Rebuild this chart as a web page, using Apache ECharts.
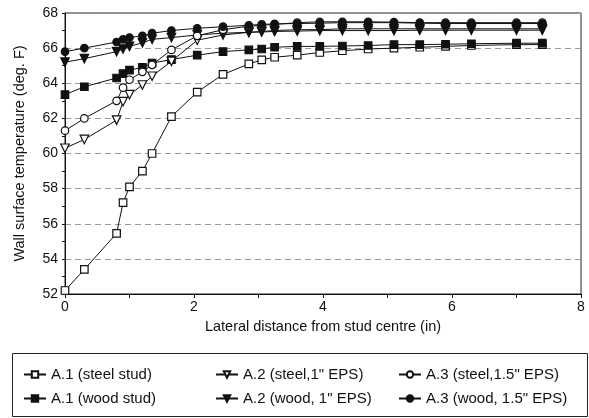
<!DOCTYPE html>
<html>
<head>
<meta charset="utf-8">
<script src="https://cdn.jsdelivr.net/npm/echarts@6/dist/echarts.min.js"></script>
<style>
  html, body { margin: 0; padding: 0; background: #fff; }
  #chart { width: 589px; height: 418px; }
</style>
</head>
<body>
<div id="chart"></div>
<script>
// lateral distance from stud centre (in), shared by all series
const distance = [0, 0.3, 0.8, 0.9, 1.0, 1.2, 1.35, 1.65, 2.05, 2.45, 2.85, 3.05, 3.25, 3.6, 3.95, 4.3, 4.7, 5.1, 5.5, 5.9, 6.3, 7.0, 7.4]

// wall surface temperature (deg. F)
const a1Steel = [52.2, 53.4, 55.45, 57.2, 58.1, 59.0, 60.0, 62.1, 63.5, 64.5, 65.1, 65.33, 65.48, 65.6, 65.75, 65.85, 65.95, 66.0, 66.05, 66.1, 66.15, 66.2, 66.2]
const a1Wood = [63.35, 63.8, 64.3, 64.55, 64.75, 64.9, 65.15, 65.35, 65.6, 65.8, 65.9, 65.95, 66.05, 66.1, 66.1, 66.12, 66.15, 66.2, 66.2, 66.22, 66.25, 66.28, 66.28]
const a2Steel = [60.3, 60.8, 61.9, 62.95, 63.35, 63.9, 64.4, 65.25, 66.45, 66.75, 66.9, 66.95, 67.0, 67.05, 67.05, 67.1, 67.1, 67.1, 67.1, 67.1, 67.1, 67.1, 67.1]
const a2Wood = [65.2, 65.4, 65.8, 65.95, 66.1, 66.3, 66.5, 66.6, 66.75, 66.85, 66.9, 66.92, 66.95, 66.97, 67.0, 67.0, 67.0, 67.0, 67.02, 67.02, 67.02, 67.02, 67.02]
const a3Steel = [61.3, 62.0, 63.0, 63.75, 64.2, 64.65, 65.05, 65.9, 66.7, 67.05, 67.25, 67.3, 67.35, 67.45, 67.5, 67.5, 67.5, 67.48, 67.45, 67.45, 67.45, 67.45, 67.45]
const a3Wood = [65.8, 66.0, 66.35, 66.5, 66.6, 66.7, 66.85, 67.0, 67.13, 67.22, 67.3, 67.35, 67.38, 67.4, 67.42, 67.45, 67.45, 67.45, 67.42, 67.4, 67.4, 67.4, 67.4]

const yTicks = [52, 54, 56, 58, 60, 62, 64, 66, 68]
const xTicks = [0, 2, 4, 6, 8]

const font = 'Liberation Sans, Arial, sans-serif'
const pair = (ys) => distance.map((x, i) => [x, ys[i]])

const lineSeries = (name, ys, symbol, filled, rotate) => ({
  name: name,
  type: 'line',
  data: pair(ys),
  symbol: symbol,
  symbolSize: symbol === 'triangle' ? 8.5 : 7.5,
  symbolRotate: rotate || 0,
  showAllSymbol: true,
  lineStyle: { color: '#111', width: 1 },
  itemStyle: { color: filled ? '#111' : '#fff', borderColor: '#111', borderWidth: 1.2 },
  animation: false
})

const legendText = { fontFamily: font, fontSize: 15, color: '#111' }

const chart = echarts.init(document.getElementById('chart'))
const option = {
  backgroundColor: '#fff',
  textStyle: { fontFamily: font },
  grid: {
    left: 65, right: 8, top: 13, bottom: 124,
    show: true, borderColor: '#222', borderWidth: 1
  },
  legend: [
    {
      orient: 'vertical', left: 18, top: 362, itemGap: 9, itemWidth: 22, itemHeight: 8,
      textStyle: legendText,
      data: ['A.1 (steel stud)', 'A.1 (wood stud)']
    },
    {
      orient: 'vertical', left: 210, top: 362, itemGap: 9, itemWidth: 22, itemHeight: 8,
      textStyle: legendText,
      data: ['A.2 (steel,1" EPS)', 'A.2 (wood, 1" EPS)']
    },
    {
      orient: 'vertical', left: 393, top: 362, itemGap: 9, itemWidth: 22, itemHeight: 8,
      textStyle: legendText,
      data: ['A.3 (steel,1.5" EPS)', 'A.3 (wood, 1.5" EPS)']
    }
  ],
  graphic: [
    {
      type: 'rect',
      left: 10, top: 351,
      shape: { width: 575, height: 63 },
      style: { fill: 'none', stroke: '#222', lineWidth: 1 }
    }
  ],
  xAxis: {
    type: 'value',
    min: xTicks[0], max: xTicks[xTicks.length - 1], interval: 2,
    name: 'Lateral distance from stud centre (in)',
    nameLocation: 'middle', nameGap: 25,
    nameTextStyle: { fontFamily: font, fontSize: 14.5, color: '#111' },
    axisLine: { lineStyle: { color: '#111', width: 1 } },
    axisTick: { show: true, length: 4, lineStyle: { color: '#111' } },
    minorTick: { show: true, splitNumber: 2, length: 4, lineStyle: { color: '#111' } },
    axisLabel: { fontFamily: font, fontSize: 14, color: '#111', margin: 6 },
    splitLine: { show: false }
  },
  yAxis: {
    type: 'value',
    min: yTicks[0], max: yTicks[yTicks.length - 1], interval: 2,
    name: 'Wall surface temperature (deg. F)',
    nameLocation: 'middle', nameGap: 38,
    nameTextStyle: { fontFamily: font, fontSize: 14.5, color: '#111' },
    axisLine: { show: true, lineStyle: { color: '#111', width: 1 } },
    axisTick: { show: true, length: 3, lineStyle: { color: '#111' } },
    minorTick: { show: true, splitNumber: 2, length: 3, lineStyle: { color: '#111' } },
    axisLabel: { fontFamily: font, fontSize: 14, color: '#111', margin: 7 },
    splitLine: { show: true, lineStyle: { color: '#999', type: [6, 4], width: 1 } }
  },
  series: [
    lineSeries('A.1 (steel stud)', a1Steel, 'rect', false),
    lineSeries('A.1 (wood stud)', a1Wood, 'rect', true),
    lineSeries('A.2 (steel,1" EPS)', a2Steel, 'triangle', false, 180),
    lineSeries('A.2 (wood, 1" EPS)', a2Wood, 'triangle', true, 180),
    lineSeries('A.3 (steel,1.5" EPS)', a3Steel, 'circle', false),
    lineSeries('A.3 (wood, 1.5" EPS)', a3Wood, 'circle', true)
  ]
}
chart.setOption(option)
</script>
</body>
</html>
